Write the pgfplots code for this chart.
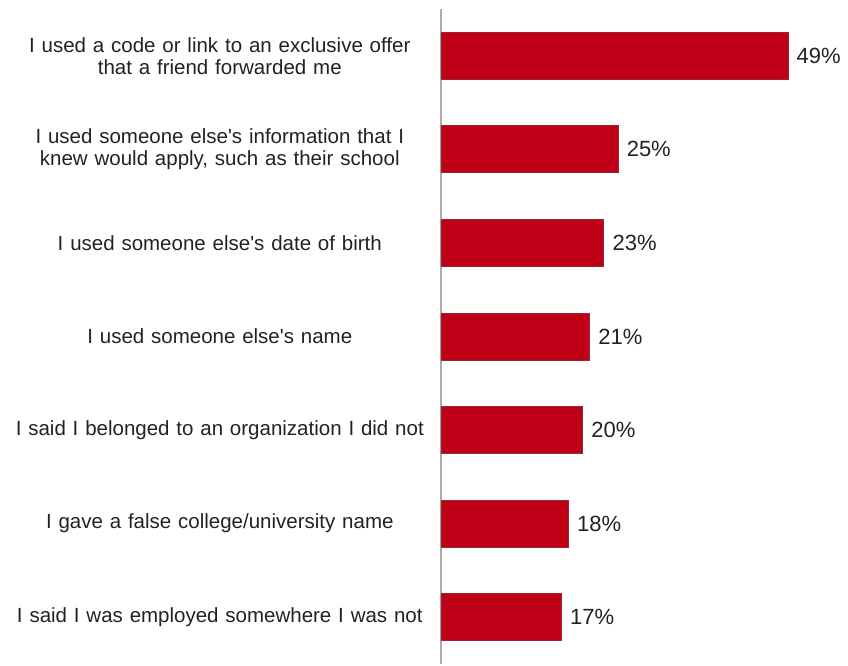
\documentclass[border=0pt]{standalone}
\usepackage{pgfplots}
\pgfplotsset{compat=1.18}
\usepackage{fontspec}
\setmainfont{Liberation Sans}[Ligatures=TeXOff]
\definecolor{barred}{RGB}{192,0,22}
\definecolor{baredge}{RGB}{150,40,50}
\definecolor{txt}{RGB}{34,34,34}
\begin{document}
\begin{tikzpicture}
\begin{axis}[
    at={(0pt,0pt)}, anchor=south west,
    scale only axis,
    width=389.5pt, height=655pt,
    xbar, bar width=47pt,
    xmin=0, xmax=55,
    ymin=-0.5, ymax=6.5,
    y dir=reverse,
    axis x line=none,
    axis y line*=left,
    y axis line style={draw=gray!65, line width=2pt},
    ytick={0,...,6},
    major tick length=0pt,
    yticklabels={
        {I used a code or link to an exclusive offer\\that a friend forwarded me},
        {I used someone else's information that I\\knew would apply, such as their school},
        {I used someone else's date of birth},
        {I used someone else's name},
        {I said I belonged to an organization I did not},
        {I gave a false college/university name},
        {I said I was employed somewhere I was not}},
    yticklabel style={align=center, text width=410pt, inner sep=0pt, xshift=-16pt,
        font=\fontsize{20.5}{22}\selectfont, text=txt},
    /pgf/number format/assume math mode=true,
    nodes near coords={\pgfmathprintnumber{\pgfplotspointmeta}\%},
    nodes near coords align={horizontal},
    every node near coord/.append style={font=\fontsize{22}{24}\selectfont, text=txt, xshift=5pt},
]
\addplot[fill=barred, draw=baredge, line width=0.8pt]
    coordinates {(49,0) (25,1) (23,2) (21,3) (20,4) (18,5) (17,6)};
\end{axis}
\useasboundingbox (-441pt,1pt) rectangle (407pt,664pt);
\end{tikzpicture}
\end{document}
